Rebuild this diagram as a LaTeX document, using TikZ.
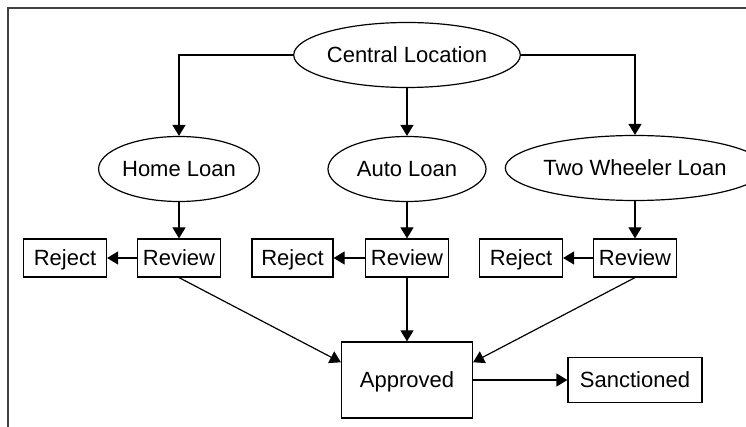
\documentclass[tikz,border=0pt]{standalone}
\usepackage{fontspec}
\setmainfont{Liberation Sans}
\usetikzlibrary{arrows.meta,shapes.geometric}
\definecolor{FrameGray}{HTML}{404040}

\begin{document}
\begin{tikzpicture}[x=0.5pt,y=-0.5pt,
    font=\fontsize{11}{13}\selectfont,
    every node/.style={text height=8pt,text depth=0pt},
    loan/.style={draw,ellipse,line width=0.6pt,inner sep=0pt,minimum height=32.5pt},
    box/.style={draw,line width=0.6pt,inner sep=0pt,minimum width=41.5pt,minimum height=19pt},
    arr/.style={line width=0.6pt,-{Triangle[length=5.5pt,width=6.5pt]}}]
  \useasboundingbox (0,0) rectangle (746,427);
  \draw[FrameGray,line width=1pt] (8,427) -- (8,8) -- (746,8);
  % loan types
  \node[loan,minimum width=92.5pt] (central) at (407,55) {Central Location};
  \node[loan,minimum width=77.5pt] (home) at (179,169) {Home Loan};
  \node[loan,minimum width=79pt] (auto) at (407,169) {Auto Loan};
  \node[loan,minimum width=108.5pt] (two) at (635,168) {Two Wheeler Loan};
  % review and reject
  \node[box] (rev1) at (179,258) {Review};
  \node[box] (rev2) at (407,258) {Review};
  \node[box] (rev3) at (635,258) {Review};
  \node[box] (rej1) at (65,258) {Reject};
  \node[box,minimum width=40.5pt] (rej2) at (292.5,258) {Reject};
  \node[box] (rej3) at (521,258) {Reject};
  \node[box,minimum width=65.5pt,minimum height=38pt] (approved) at (407,380) {Approved};
  \node[box,minimum width=67pt,minimum height=22.5pt] (sanctioned) at (635,380) {Sanctioned};
  % connectors
  \draw[arr] (central.west) -| (home.north);
  \draw[arr] (central.south) -- (auto.north);
  \draw[arr] (central.east) -| (two.north);
  \draw[arr] (home.south) -- (rev1.north);
  \draw[arr] (auto.south) -- (rev2.north);
  \draw[arr] (two.south) -- (rev3.north);
  \draw[arr] (rev1.west) -- (rej1.east);
  \draw[arr] (rev2.west) -- (rej2.east);
  \draw[arr] (rev3.west) -- (rej3.east);
  \draw[arr] (rev1.south) -- (approved.165);
  \draw[arr] (rev2.south) -- (approved.north);
  \draw[arr] (rev3.south) -- (approved.15);
  \draw[arr] (approved.east) -- (sanctioned.west);
\end{tikzpicture}
\end{document}
